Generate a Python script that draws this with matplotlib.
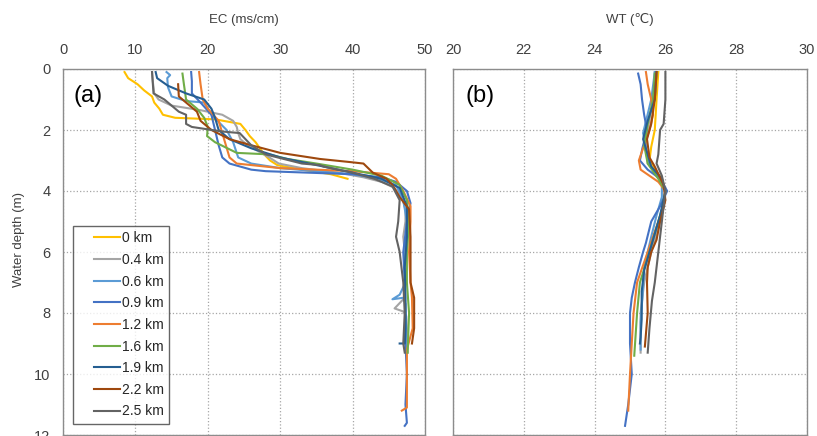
import matplotlib
matplotlib.use("Agg")
import matplotlib.pyplot as plt
from matplotlib.legend_handler import HandlerLine2D

plt.rcParams['font.family'] = ['Liberation Sans', 'DejaVu Sans']

labels = ['0 km', '0.4 km', '0.6 km', '0.9 km', '1.2 km', '1.6 km', '1.9 km', '2.2 km', '2.5 km']
colors = ['#FFC000', '#A5A5A5', '#5B9BD5', '#4472C4', '#ED7D31',
          '#70AD47', '#255E91', '#9E480E', '#636363']

# EC profiles (depth m, EC ms/cm)
ec_d_00 = [0.1, 0.3, 0.5, 0.7, 0.9, 1.1, 1.3, 1.5, 1.6, 1.65, 1.8, 2.0, 2.2, 2.4, 2.6, 2.8, 3.0, 3.15, 3.3, 3.45, 3.6]
ec_00 = [8.5, 9.0, 10.3, 11.2, 12.3, 12.6, 13.3, 13.8, 15.5, 21.0, 24.5, 25.2, 25.8, 26.6, 27.2, 27.8, 28.6, 29.6, 33.0, 37.0, 39.3]

ec_d_04 = [0.1, 0.4, 0.8, 1.0, 1.2, 1.35, 1.5, 1.7, 1.9, 2.1, 2.3, 2.5, 2.7, 2.9, 3.1, 3.25, 3.4, 3.55, 3.7, 3.9,
           4.2, 4.6, 5.0, 5.5, 6.0, 6.5, 7.0, 7.5, 7.85, 7.95, 8.1, 8.5, 9.0, 9.3]
ec_04 = [12.3, 12.4, 12.6, 13.2, 15.0, 19.0, 22.0, 23.5, 24.0, 24.2, 24.5, 25.5, 27.0, 28.5, 29.8, 33.0, 38.0, 41.5, 44.0, 45.8,
         46.8, 47.3, 47.3, 47.0, 47.2, 47.3, 47.2, 47.2, 45.8, 47.0, 47.4, 47.5, 47.6, 47.6]

ec_d_06 = [0.1, 0.2, 0.3, 0.6, 0.9, 1.05, 1.1, 1.5, 2.0, 2.4, 2.9, 3.1, 3.25, 3.45, 3.6, 3.8, 4.3, 5.0, 6.0, 7.0,
           7.4, 7.55, 7.5, 7.7, 8.0, 8.5, 9.2]
ec_06 = [14.3, 14.8, 14.4, 14.5, 15.0, 17.0, 19.5, 20.5, 22.6, 23.5, 24.2, 26.0, 30.0, 40.0, 43.5, 46.0, 47.0, 47.5, 47.3, 47.3,
         46.5, 45.5, 47.0, 47.3, 47.3, 47.4, 47.3]

ec_d_09 = [0.1, 0.4, 0.8, 1.1, 1.5, 2.0, 2.5, 2.9, 3.1, 3.3, 3.35, 3.45, 3.55, 3.7, 4.0, 4.4, 5.0, 6.0, 7.0, 8.0,
           9.0, 10.0, 11.0, 11.6, 11.7]
ec_09 = [17.7, 17.8, 17.8, 19.0, 20.5, 21.0, 21.5, 22.0, 23.0, 26.0, 28.0, 40.0, 44.0, 46.0, 47.5, 48.0, 47.5, 47.0, 47.2, 47.3,
         47.3, 47.5, 47.3, 47.5, 47.2]

ec_d_12 = [0.1, 0.5, 1.0, 1.3, 1.7, 2.1, 2.5, 2.9, 3.1, 3.25, 3.35, 3.45, 3.6, 4.0, 4.5, 5.0, 6.0, 7.0, 7.5, 8.5,
           9.2, 10.0, 11.1, 11.2]
ec_12 = [18.8, 19.0, 19.3, 20.0, 21.5, 22.0, 22.5, 23.0, 24.0, 30.0, 40.0, 45.0, 46.0, 47.0, 48.0, 48.0, 47.8, 48.0, 48.2, 48.3,
         47.5, 47.5, 47.5, 46.8]

ec_d_16 = [0.15, 0.5, 1.0, 1.3, 1.6, 1.9, 2.2, 2.4, 2.75, 2.8, 2.95, 3.1, 3.3, 3.5, 3.8, 4.3, 5.0, 6.0, 7.0, 8.0, 9.3]
ec_16 = [16.5, 16.7, 17.0, 18.5, 19.5, 20.0, 19.9, 21.0, 24.0, 28.5, 31.0, 35.0, 40.0, 44.0, 46.5, 47.5, 47.8, 47.5, 47.5, 47.8, 47.6]

ec_d_19 = [0.1, 0.3, 0.55, 0.8, 1.0, 1.3, 1.6, 2.0, 2.3, 2.6, 2.9, 3.15, 3.4, 3.6, 3.9, 4.5, 5.5, 6.5, 7.5, 8.5,
           9.0, 9.0]
ec_19 = [12.8, 13.0, 14.5, 17.0, 19.5, 20.5, 21.0, 21.5, 23.0, 26.0, 30.0, 35.0, 40.0, 44.0, 46.5, 47.5, 47.5, 47.2, 47.3, 47.3,
         47.2, 46.5]

ec_d_22 = [0.5, 0.9, 1.2, 1.4, 1.7, 2.0, 2.3, 2.5, 2.75, 2.95, 3.05, 3.1, 3.4, 3.6, 3.8, 4.2, 4.6, 5.5, 7.0, 7.5,
           8.5, 9.0]
ec_22 = [15.9, 16.0, 17.5, 18.5, 19.0, 20.5, 23.0, 26.0, 30.0, 35.5, 39.6, 41.5, 42.8, 44.7, 45.5, 46.5, 47.8, 48.0, 48.0, 48.5,
         48.5, 48.2]

ec_d_25 = [0.1, 0.8, 1.0, 1.2, 1.4, 1.5, 1.8, 1.9, 2.05, 2.1, 2.5, 2.8, 3.1, 3.15, 3.2, 3.4, 3.6, 3.85, 4.3, 5.0,
           5.5, 6.0, 7.0, 8.0, 9.0, 9.3]
ec_25 = [12.3, 12.5, 14.0, 15.0, 16.0, 17.0, 17.0, 17.8, 22.0, 24.4, 26.0, 28.0, 33.0, 35.5, 36.0, 40.0, 43.0, 45.5, 46.5, 46.3,
         46.0, 46.5, 47.0, 47.2, 47.0, 47.2]

# WT profiles (depth m, temperature degC)
wt_d_00 = [0.1, 1.0, 2.0, 2.55, 3.0, 3.3, 3.6]
wt_00 = [25.8, 25.75, 25.7, 25.6, 25.55, 25.7, 25.9]

wt_d_04 = [0.1, 1.0, 2.0, 2.6, 3.1, 3.5, 3.9, 4.5, 5.2, 6.0, 7.0, 8.0, 9.3]
wt_04 = [25.7, 25.65, 25.5, 25.45, 25.5, 25.8, 26.0, 25.95, 25.8, 25.6, 25.4, 25.3, 25.3]

wt_d_06 = [0.1, 1.0, 2.1, 2.6, 3.0, 3.4, 3.7, 4.2, 4.8, 5.5, 6.5, 7.5, 8.3, 9.2]
wt_06 = [25.7, 25.6, 25.37, 25.45, 25.5, 25.7, 25.9, 25.9, 25.75, 25.6, 25.4, 25.35, 25.3, 25.3]

wt_d_09 = [0.15, 0.5, 1.0, 1.5, 2.0, 2.6, 3.0, 3.3, 3.6, 4.0, 4.5, 5.0, 5.7, 6.0, 6.5, 7.0, 7.5, 8.0, 9.0, 10.0,
           11.0, 11.7]
wt_09 = [25.23, 25.3, 25.34, 25.4, 25.48, 25.35, 25.28, 25.5, 25.85, 26.05, 25.85, 25.6, 25.45, 25.37, 25.25, 25.14, 25.05, 25.0, 25.0, 25.05,
         24.95, 24.86]

wt_d_12 = [0.1, 0.5, 1.0, 1.5, 2.0, 2.5, 3.0, 3.3, 3.7, 4.0, 4.5, 5.0, 5.5, 6.0, 6.5, 7.0, 7.5, 8.0, 9.0, 10.0,
           11.2]
wt_12 = [25.45, 25.5, 25.6, 25.65, 25.55, 25.4, 25.25, 25.3, 25.8, 26.0, 25.95, 25.8, 25.65, 25.5, 25.35, 25.2, 25.15, 25.1, 25.05, 25.0,
         24.95]

wt_d_16 = [0.15, 1.0, 1.8, 2.5, 3.1, 3.6, 4.0, 4.6, 5.4, 6.2, 7.0, 8.0, 9.4]
wt_16 = [25.7, 25.65, 25.5, 25.4, 25.5, 25.8, 26.0, 25.9, 25.7, 25.5, 25.28, 25.2, 25.12]

wt_d_19 = [0.1, 1.0, 1.7, 2.3, 2.8, 3.2, 3.6, 4.0, 4.8, 5.8, 6.6, 7.3, 8.2, 8.8, 9.0]
wt_19 = [25.75, 25.7, 25.5, 25.37, 25.5, 25.6, 25.9, 26.0, 25.85, 25.6, 25.4, 25.33, 25.33, 25.3, 25.28]

wt_d_22 = [0.1, 1.0, 1.8, 2.3, 2.9, 3.2, 3.8, 4.3, 5.0, 5.6, 6.0, 6.5, 7.0, 8.0, 9.1]
wt_22 = [25.75, 25.7, 25.6, 25.48, 25.55, 25.7, 25.95, 26.0, 25.85, 25.75, 25.6, 25.5, 25.48, 25.5, 25.42]

wt_d_25 = [0.1, 1.0, 1.8, 2.0, 2.8, 3.1, 3.5, 4.0, 5.0, 6.0, 6.5, 7.0, 7.6, 8.5, 9.3]
wt_25 = [26.0, 26.0, 25.95, 25.85, 25.8, 25.75, 25.9, 26.0, 25.9, 25.8, 25.75, 25.7, 25.62, 25.55, 25.5]

ec_depths = [ec_d_00, ec_d_04, ec_d_06, ec_d_09, ec_d_12, ec_d_16, ec_d_19, ec_d_22, ec_d_25]
ec_vals = [ec_00, ec_04, ec_06, ec_09, ec_12, ec_16, ec_19, ec_22, ec_25]
wt_depths = [wt_d_00, wt_d_04, wt_d_06, wt_d_09, wt_d_12, wt_d_16, wt_d_19, wt_d_22, wt_d_25]
wt_vals = [wt_00, wt_04, wt_06, wt_09, wt_12, wt_16, wt_19, wt_22, wt_25]


class ShortLine(HandlerLine2D):
    # legend line drawn only in the right part of the handle box (Excel-like)
    def create_artists(self, legend, orig_handle, xdescent, ydescent, width, height, fontsize, trans):
        arts = super().create_artists(legend, orig_handle, xdescent, ydescent, width, height, fontsize, trans)
        y = arts[0].get_ydata()[0]
        arts[0].set_data([-xdescent + width * 0.36, -xdescent + width], [y, y])
        return arts


fig = plt.figure(figsize=(8.17, 4.36), dpi=100)
ax1 = fig.add_axes([63 / 817, 1 - 435 / 436, 362 / 817, 366 / 436])
ax2 = fig.add_axes([453 / 817, 1 - 435 / 436, 354 / 817, 366 / 436])

for ax in (ax1, ax2):
    ax.xaxis.tick_top()
    ax.xaxis.set_label_position('top')
    ax.set_ylim(12, 0)
    ax.set_yticks([0, 2, 4, 6, 8, 10, 12])
    ax.grid(True, linestyle=':', color='#A6A6A6', linewidth=0.9)
    ax.tick_params(length=0, labelsize=10.5, colors='#404040', pad=9)
    for s in ax.spines.values():
        s.set_color('#8C8C8C')
        s.set_linewidth(1.0)

for d, v, c, lab in zip(ec_depths, ec_vals, colors, labels):
    ax1.plot(v, d, color=c, linewidth=1.5, label=lab)
for d, v, c in zip(wt_depths, wt_vals, colors):
    ax2.plot(v, d, color=c, linewidth=1.5)

ax1.set_xlim(0, 50)
ax1.set_xticks([0, 10, 20, 30, 40, 50])
ax1.set_xlabel('EC (ms/cm)', fontsize=9.5, color='#404040', labelpad=14)
ax1.set_ylabel('Water depth (m)', fontsize=9.5, color='#404040')
ax1.yaxis.set_label_coords(-0.105, 0.535)
ax1.text(0.03, 0.955, '(a)', transform=ax1.transAxes, fontsize=17, va='top', color='black')

ax2.set_xlim(20, 30)
ax2.set_xticks([20, 22, 24, 26, 28, 30])
ax2.tick_params(axis='y', labelleft=False)
ax2.set_xlabel('WT (℃)', fontsize=9.5, color='#404040', labelpad=14)
ax2.text(0.035, 0.955, '(b)', transform=ax2.transAxes, fontsize=17, va='top', color='black')

leg = ax1.legend(loc='lower left', bbox_to_anchor=((73 - 63) / 362, (435 - 424) / 366), borderaxespad=0,
                 fontsize=10, frameon=True, fancybox=False, edgecolor='#404040',
                 handlelength=3.0, handletextpad=0.1, labelspacing=0.55, borderpad=0.4,
                 handler_map={plt.Line2D: ShortLine()})
leg.get_frame().set_linewidth(1.0)
for t in leg.get_texts():
    t.set_color('#262626')

fig.savefig('out.png', dpi=100)
